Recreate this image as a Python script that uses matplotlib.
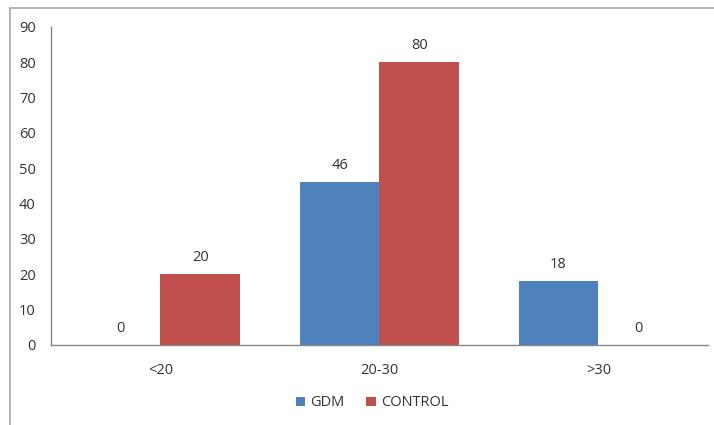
import matplotlib.pyplot as plt
from matplotlib.patches import Rectangle
import numpy as np

groups = ['<20', '20-30', '>30']
gdm = [0, 46, 18]
control = [20, 80, 0]
yticks = list(range(0, 100, 10))

blue = '#4F81BD'
red = '#C0504D'
txt = '#333333'
axis_gray = '#868686'
fs = 10.5

plt.rcParams['font.family'] = ['Open Sans', 'DejaVu Sans']

fig = plt.figure(figsize=(7.14, 4.25), dpi=100)
ax = fig.add_axes([51 / 714, 1 - 345 / 425, 657 / 714, 318 / 425])

# outer frame, open at right and bottom
fig.patches.append(Rectangle((9.5 / 714, -0.1), 1.2, 1 - 8.5 / 425 + 0.1,
                             transform=fig.transFigure, fill=False,
                             edgecolor='#A6A6A6', linewidth=1.2))

x = np.arange(len(groups))
w = 0.365
b1 = ax.bar(x - w / 2, gdm, w, color=blue, label='GDM')
b2 = ax.bar(x + w / 2, control, w, color=red, label='CONTROL')

for bars, vals in ((b1, gdm), (b2, control)):
    for rect, v in zip(bars, vals):
        ax.annotate(str(v), (rect.get_x() + rect.get_width() / 2, v),
                    xytext=(0, 12), textcoords='offset points',
                    ha='center', va='center', fontsize=fs, color=txt)

ax.set_xlim(-0.5, 2.5)
ax.set_ylim(0, 90)
ax.set_yticks(yticks)
ax.set_xticks(x)
ax.set_xticklabels(groups)
ax.tick_params(axis='both', length=0, labelsize=fs, labelcolor=txt)
ax.tick_params(axis='y', pad=11)
ax.tick_params(axis='x', pad=13)

for s in ('top', 'right'):
    ax.spines[s].set_visible(False)
for s in ('left', 'bottom'):
    ax.spines[s].set_color(axis_gray)
    ax.spines[s].set_linewidth(1)

ax.legend(loc='center', bbox_to_anchor=(372 / 714, 1 - 403 / 425),
          bbox_transform=fig.transFigure, ncol=2, frameon=False,
          fontsize=fs, handlelength=0.65, handleheight=0.65,
          handletextpad=0.35, columnspacing=1.5, labelcolor=txt)

fig.savefig('out.png', dpi=100)
